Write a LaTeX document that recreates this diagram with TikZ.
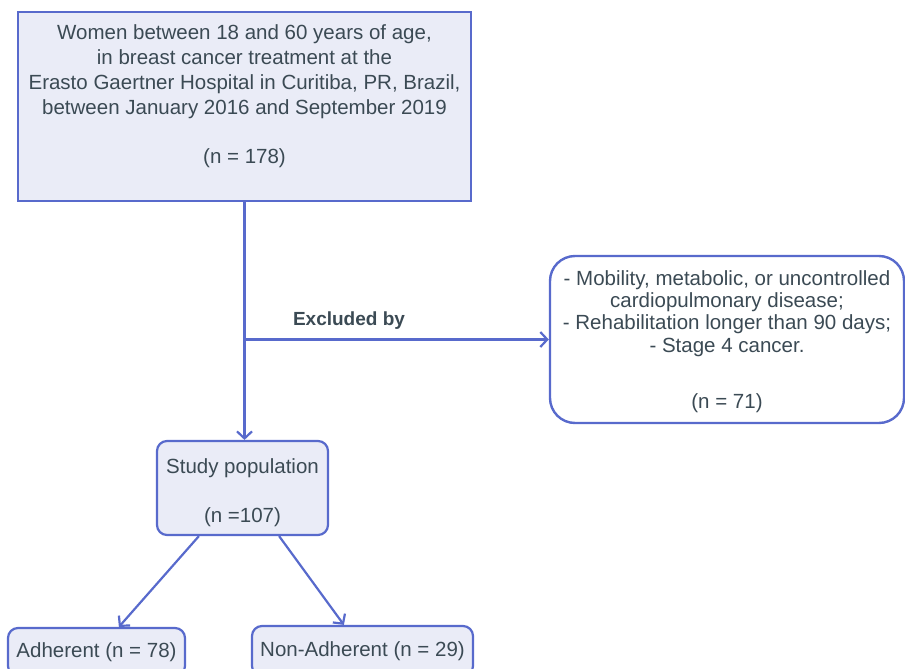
\documentclass[tikz,border=0pt]{standalone}
\usepackage{fontspec}
\setmainfont{Liberation Sans}
\usetikzlibrary{positioning,arrows.meta}
\definecolor{edge}{RGB}{88,106,204}
\definecolor{lav}{RGB}{234,236,247}
\definecolor{txt}{RGB}{59,74,84}

\begin{document}
\begin{tikzpicture}[
x=1pt,y=-1pt,
every node/.style={font=\fontsize{20.5}{24.8}\selectfont,text=txt,align=center,inner sep=0pt},
box/.style={draw=edge,line width=2.2pt,fill=lav},
link/.style={draw=edge,line width=2.2pt},
>={Straight Barb[length=7pt,width=15pt]}]
\useasboundingbox (0,0) rectangle (905,669);
\node[box,minimum width=453pt,minimum height=189pt] (women) at (244.5,106.5) {Women between 18 and 60 years of age,\\ in breast cancer treatment at the\\ Erasto Gaertner Hospital in Curitiba, PR, Brazil,\\ between January 2016 and September 2019\\[24.6pt] (n = 178)\\ \mbox{}};
\node[box,fill=white,rounded corners=25pt,line width=2.4pt,minimum width=354pt,minimum height=167pt,font=\fontsize{20.5}{22.3}\selectfont] (excluded) at (727,339.5) {\rule{0pt}{19pt}- Mobility, metabolic, or uncontrolled\\ cardiopulmonary disease;\\ - Rehabilitation longer than 90 days;\\ - Stage 4 cancer.\\[34pt] (n = 71)};
\node[box,rounded corners=10pt,minimum width=171pt,minimum height=94pt] (study) at (242.5,488) {\rule{0pt}{25pt}Study population\\[24.4pt] (n =107)};
\node[box,rounded corners=10pt,minimum width=177pt,minimum height=48pt] (adherent) at (96.5,652) {Adherent (n = 78)};
\node[box,rounded corners=10pt,minimum width=221pt,minimum height=50pt] (nonadherent) at (362.5,651) {Non-Adherent (n = 29)};
\node[font=\fontsize{19}{22}\selectfont\bfseries] (exclby) at (349,321) {Excluded by};
\coordinate (split) at (women.south |- excluded.west);
\draw[link,->] (women.south) -- (women.south |- study.north);
\draw[link,->] (split) -- (excluded.west);
\draw[link,->] ([xshift=43pt]study.south west) -- ([xshift=112pt]adherent.north west);
\draw[link,->] ([xshift=-50pt]study.south east) -- ([xshift=93pt]nonadherent.north west);
\end{tikzpicture}
\end{document}
